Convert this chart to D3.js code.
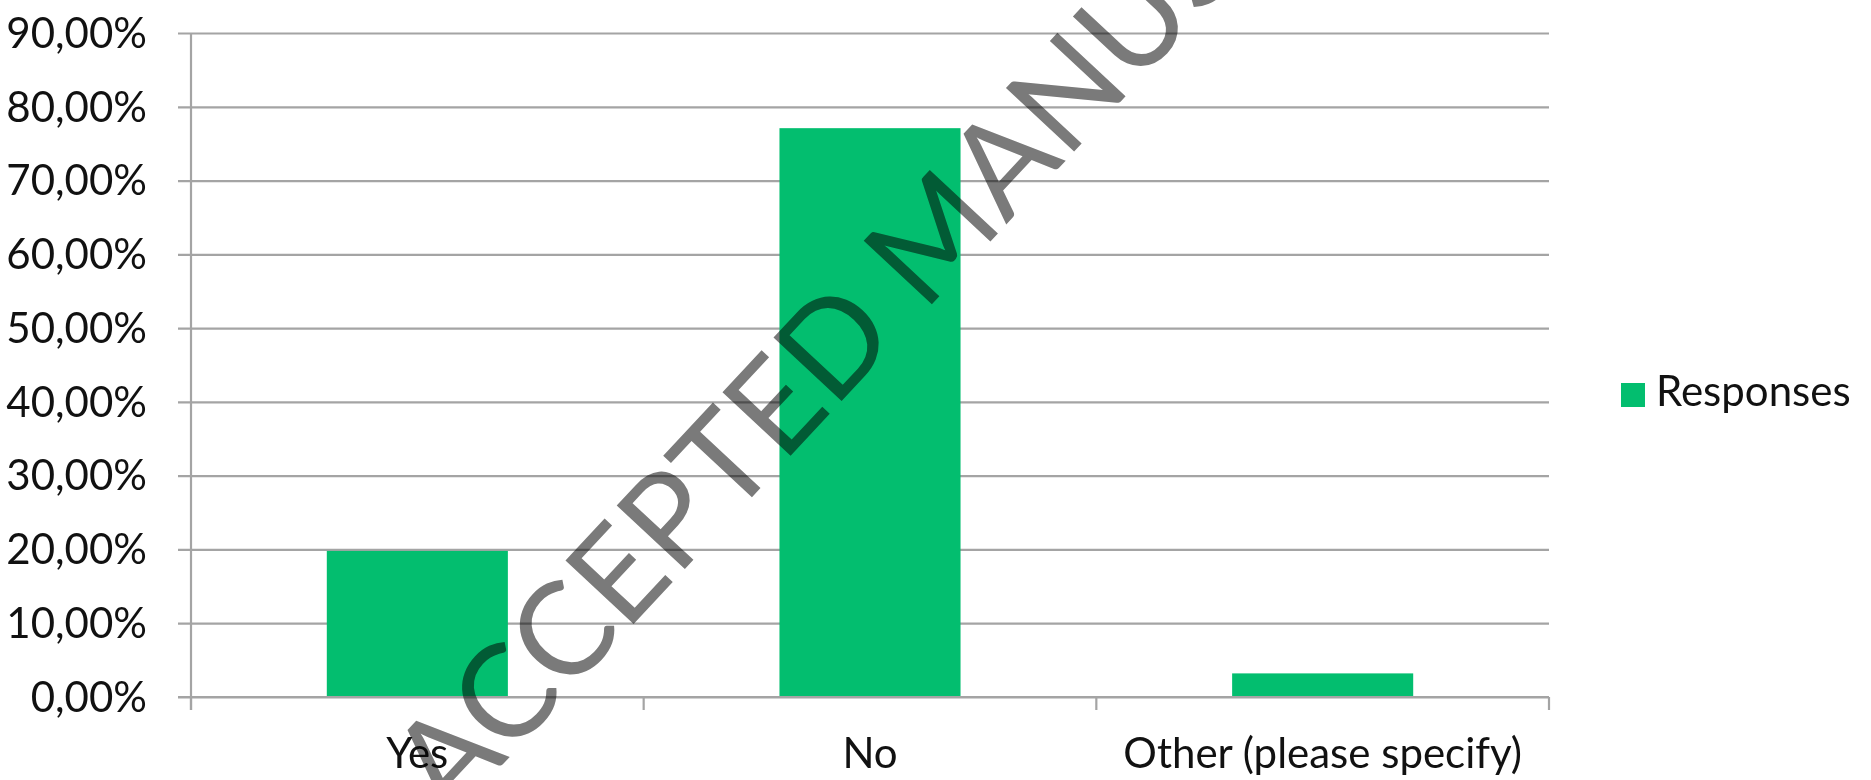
<!DOCTYPE html>
<html>
<head>
<meta charset="utf-8">
<script src="https://cdn.jsdelivr.net/npm/d3@7"></script>
<style>
  html, body { margin: 0; padding: 0; background: #ffffff; }
  svg { display: block; }
  text { font-family: Lato, "Open Sans", sans-serif; fill: #111; }
</style>
</head>
<body>
<svg id="chart" width="1871" height="780"></svg>
<script>
const categories = ["Yes", "No", "Other (please specify)"];
const responses = [0.198, 0.771, 0.032];
const yTicks = [0, 0.1, 0.2, 0.3, 0.4, 0.5, 0.6, 0.7, 0.8, 0.9];
const seriesName = "Responses";
const watermarkText = "ACCEPTED MANUSCRIPT";

const W = 1871, H = 780;
const plot = { left: 191, right: 1549, top: 33, bottom: 697 };
const green = "#03BE6F";
const gridColor = "#a4a4a4";

const svg = d3.select("#chart");

const y = d3.scaleLinear().domain([0, 0.9]).range([plot.bottom, plot.top]);
const x = d3.scaleBand().domain(categories).range([plot.left, plot.right])
  .paddingInner(0.6).paddingOuter(0.3);
const xb = d3.scaleLinear().domain([0, categories.length]).range([plot.left, plot.right]);

const locale = d3.formatLocale({ decimal: ",", thousands: ".", grouping: [3], currency: ["", ""], percent: "%" });
const fmt = locale.format(".2%");

// gridlines + y tick marks
const yAxis = d3.axisLeft(y).tickValues(yTicks).tickFormat(fmt)
  .tickSize(-(plot.right - plot.left)).tickSizeOuter(0).tickPadding(44);
const gy = svg.append("g").attr("transform", `translate(${plot.left},0)`).call(yAxis);
gy.select(".domain").remove();
gy.selectAll(".tick line").attr("x1", -13).attr("stroke", gridColor).attr("stroke-width", 2.2);
gy.selectAll(".tick text").attr("font-size", 42).attr("font-family", "Lato, sans-serif")
  .attr("fill", "#111").attr("dy", "0.34em");

// bars
svg.append("g").selectAll("rect").data(categories).join("rect")
  .attr("x", d => x(d))
  .attr("width", x.bandwidth())
  .attr("y", (d, i) => y(responses[i]))
  .attr("height", (d, i) => y(0) - y(responses[i]))
  .attr("fill", green);

// y axis line
svg.append("line").attr("x1", plot.left).attr("x2", plot.left)
  .attr("y1", y(0.9)).attr("y2", plot.bottom + 13)
  .attr("stroke", gridColor).attr("stroke-width", 2.2);

// x axis line
svg.append("line").attr("x1", plot.left - 13).attr("x2", plot.right)
  .attr("y1", y(0)).attr("y2", y(0))
  .attr("stroke", gridColor).attr("stroke-width", 2.2);

// x boundary ticks
svg.append("g").selectAll("line").data(d3.range(categories.length + 1)).join("line")
  .attr("x1", d => xb(d)).attr("x2", d => xb(d))
  .attr("y1", y(0)).attr("y2", y(0) + 13)
  .attr("stroke", gridColor).attr("stroke-width", 2.2);

// category labels
svg.append("g").selectAll("text").data(categories).join("text")
  .attr("x", d => x(d) + x.bandwidth() / 2)
  .attr("y", 768)
  .attr("text-anchor", "middle")
  .attr("font-size", 42)
  .text(d => d);

// legend
const lg = svg.append("g");
lg.append("rect").attr("x", 1621).attr("y", 383).attr("width", 24).attr("height", 24).attr("fill", green);
lg.append("text").attr("x", 1656).attr("y", 406).attr("font-size", 42).text(seriesName);

// watermark
svg.append("text")
  .attr("transform", "translate(450,821) rotate(-47)")
  .attr("x", 0).attr("y", 0)
  .attr("font-family", "'Liberation Sans', Arial, sans-serif")
  .attr("font-size", 130)
  .style("fill", "#7a7a7a")
  .style("mix-blend-mode", "multiply")
  .text(watermarkText);
</script>
</body>
</html>
